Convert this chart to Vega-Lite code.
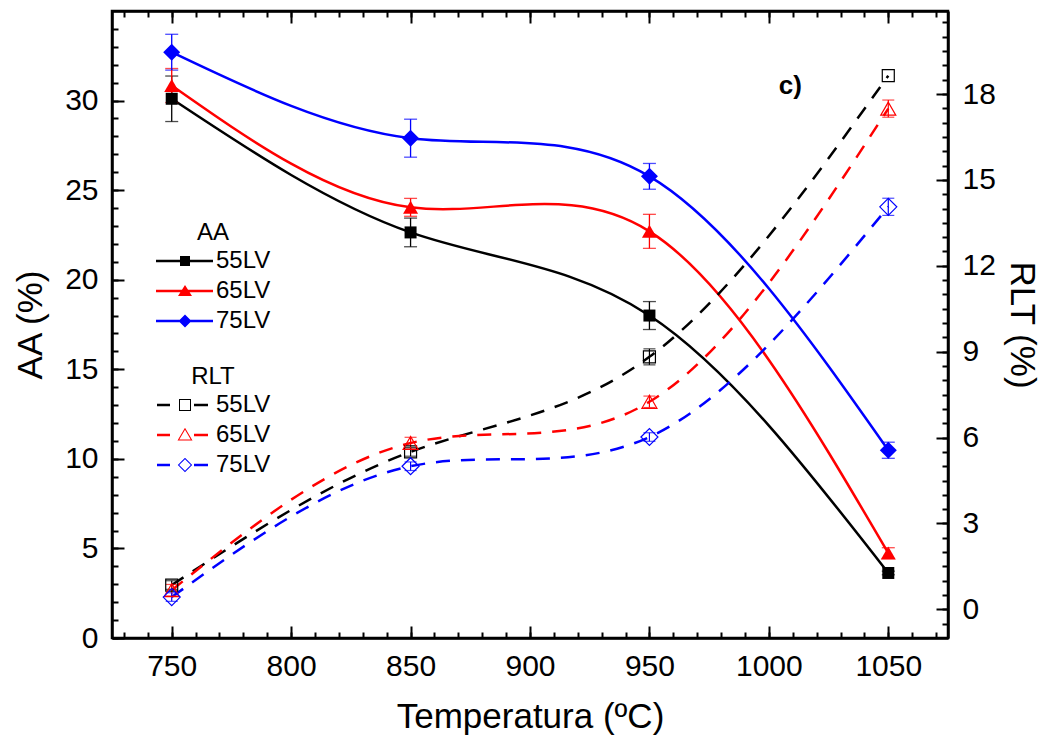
{
 "$schema": "https://vega.github.io/schema/vega-lite/v6.json",
 "width": 836, "height": 627,
 "autosize": {"type": "none"},
 "padding": {"left": 112, "top": 11, "right": 104, "bottom": 104},
 "background": "white",
 "config": {
  "font": "Liberation Sans",
  "view": {"stroke": "black", "strokeWidth": 2.5},
  "axis": {"grid": false, "domainColor": "black", "domainWidth": 2.5, "tickColor": "black", "tickWidth": 2, "labelColor": "black", "titleColor": "black", "labelFont": "Liberation Sans", "titleFont": "Liberation Sans", "labelFontSize": 30, "titleFontSize": 35, "titleFontWeight": "normal", "labelFlush": false, "labelOverlap": false, "labelBound": false},
  "legend": {"orient": "none", "labelFont": "Liberation Sans", "titleFont": "Liberation Sans", "labelFontSize": 24, "titleFontSize": 24, "titleFontWeight": "normal", "labelColor": "black", "titleColor": "black", "symbolSize": 400, "symbolStrokeWidth": 0, "symbolOpacity": 1, "titleAnchor": "middle", "labelOffset": 37, "rowPadding": 6, "titlePadding": 4}
 },
 "data": {"values": [
  {"T": 750, "s": "55LV", "m": "AA", "v": 30.1, "e": 1.27},
  {"T": 850, "s": "55LV", "m": "AA", "v": 22.64, "e": 0.8},
  {"T": 950, "s": "55LV", "m": "AA", "v": 18.0, "e": 0.78},
  {"T": 1050, "s": "55LV", "m": "AA", "v": 3.63, "e": 0.1},
  {"T": 750, "s": "65LV", "m": "AA", "v": 30.84, "e": 0.95},
  {"T": 850, "s": "65LV", "m": "AA", "v": 24.04, "e": 0.5},
  {"T": 950, "s": "65LV", "m": "AA", "v": 22.7, "e": 0.95},
  {"T": 1050, "s": "65LV", "m": "AA", "v": 4.74, "e": 0.3},
  {"T": 750, "s": "75LV", "m": "AA", "v": 32.7, "e": 1.0},
  {"T": 850, "s": "75LV", "m": "AA", "v": 27.9, "e": 1.06},
  {"T": 950, "s": "75LV", "m": "AA", "v": 25.77, "e": 0.72},
  {"T": 1050, "s": "75LV", "m": "AA", "v": 10.48, "e": 0.45},
  {"T": 750, "s": "55LV", "m": "RLT", "v": 0.85, "e": 0.15},
  {"T": 850, "s": "55LV", "m": "RLT", "v": 5.5, "e": 0.15},
  {"T": 950, "s": "55LV", "m": "RLT", "v": 8.82, "e": 0.28},
  {"T": 1050, "s": "55LV", "m": "RLT", "v": 18.64, "e": 0},
  {"T": 750, "s": "65LV", "m": "RLT", "v": 0.67, "e": 0.2},
  {"T": 850, "s": "65LV", "m": "RLT", "v": 5.81, "e": 0.2},
  {"T": 950, "s": "65LV", "m": "RLT", "v": 7.25, "e": 0.2},
  {"T": 1050, "s": "65LV", "m": "RLT", "v": 17.49, "e": 0.3},
  {"T": 750, "s": "75LV", "m": "RLT", "v": 0.43, "e": 0.15},
  {"T": 850, "s": "75LV", "m": "RLT", "v": 5.0, "e": 0.15},
  {"T": 950, "s": "75LV", "m": "RLT", "v": 6.02, "e": 0.15},
  {"T": 1050, "s": "75LV", "m": "RLT", "v": 14.06, "e": 0.3}
 ]},
 "layer": [
  {
   "transform": [{"filter": "datum.m === 'AA'"}],
   "layer": [
    {"transform": [{"filter": "false"}],
     "mark": {"type": "point", "filled": true, "opacity": 1, "size": 400},
     "encoding": {
      "color": {"field": "s", "type": "nominal", "scale": {"domain": ["55LV", "65LV", "75LV"], "range": ["#000000", "#ff0000", "#0000ff"]},
       "legend": {"title": "AA", "legendX": 43, "legendY": 210}},
      "shape": {"field": "s", "type": "nominal", "scale": {"domain": ["55LV", "65LV", "75LV"], "range": [
        "M-1.1,-0.12H4.6V0.12H-1.1ZM1.3,-0.5H2.3V0.5H1.3Z",
        "M-1.1,-0.12H4.6V0.12H-1.1ZM1.8,-0.6L2.5,0.5H1.1Z",
        "M-1.1,-0.12H4.6V0.12H-1.1ZM1.8,-0.65L2.45,0L1.8,0.65L1.15,0Z"]},
       "legend": {"title": "AA", "legendX": 43, "legendY": 210}}}},
    {"mark": {"type": "line", "interpolate": "natural", "strokeWidth": 2.5},
     "encoding": {
      "x": {"field": "T", "type": "quantitative", "scale": {"domain": [725, 1075], "nice": false, "zero": false},
       "axis": {"orient": "bottom", "title": "Temperatura (ºC)", "format": "d", "values": [750,800,850,900,950,1000,1050], "tickSize": -12, "labelPadding": 25, "titlePadding": 18}},
      "y": {"field": "v", "type": "quantitative", "scale": {"domain": [0, 35], "nice": false, "zero": false},
       "axis": {"orient": "left", "title": "AA (%)", "format": "d", "values": [0,5,10,15,20,25,30], "tickSize": -12, "labelPadding": 26, "titlePadding": 16}},
      "color": {"field": "s", "type": "nominal", "legend": null}}},
    {"transform": [{"filter": "datum.e > 0"}],
     "mark": {"type": "errorbar", "thickness": 1.3, "ticks": {"size": 13, "thickness": 1.3}},
     "encoding": {
      "x": {"field": "T", "type": "quantitative",
       "axis": {"orient": "bottom", "title": null, "labels": false, "domain": false, "values": [730,740,750,760,770,780,790,800,810,820,830,840,850,860,870,880,890,900,910,920,930,940,950,960,970,980,990,1000,1010,1020,1030,1040,1050,1060,1070], "tickSize": -6}},
      "y": {"field": "v", "type": "quantitative",
       "axis": {"orient": "left", "title": null, "labels": false, "domain": false, "values": [0,1,2,3,4,5,6,7,8,9,10,11,12,13,14,15,16,17,18,19,20,21,22,23,24,25,26,27,28,29,30,31,32,33,34], "tickSize": -6}},
      "yError": {"field": "e"},
      "color": {"field": "s", "type": "nominal", "legend": null}}},
    {"transform": [{"filter": "datum.s === '55LV'"}],
     "mark": {"type": "point", "shape": "square", "size": 144, "filled": true, "opacity": 1},
     "encoding": {
      "x": {"field": "T", "type": "quantitative", "axis": null},
      "y": {"field": "v", "type": "quantitative", "axis": null},
      "color": {"field": "s", "type": "nominal", "legend": null}}},
    {"transform": [{"filter": "datum.s === '65LV'"}],
     "mark": {"type": "point", "shape": "triangle-up", "size": 225, "filled": true, "opacity": 1},
     "encoding": {
      "x": {"field": "T", "type": "quantitative", "axis": null},
      "y": {"field": "v", "type": "quantitative", "axis": null},
      "color": {"field": "s", "type": "nominal", "legend": null}}},
    {"transform": [{"filter": "datum.s === '75LV'"}],
     "mark": {"type": "point", "shape": "diamond", "size": 289, "filled": true, "opacity": 1},
     "encoding": {
      "x": {"field": "T", "type": "quantitative", "axis": null},
      "y": {"field": "v", "type": "quantitative", "axis": null},
      "color": {"field": "s", "type": "nominal", "legend": null}}}
   ],
   "resolve": {"axis": {"x": "independent", "y": "independent"}}
  },
  {
   "transform": [{"filter": "datum.m === 'RLT'"}],
   "layer": [
    {"transform": [{"filter": "false"}],
     "mark": {"type": "point", "filled": true, "opacity": 1, "size": 400},
     "encoding": {
      "color": {"field": "s", "type": "nominal", "scale": {"domain": ["55LV", "65LV", "75LV"], "range": ["#000000", "#ff0000", "#0000ff"]},
       "legend": {"title": "RLT", "legendX": 43, "legendY": 354}},
      "shape": {"field": "s", "type": "nominal", "scale": {"domain": ["55LV", "65LV", "75LV"], "range": [
        "M-1.0,-0.12H0.3V0.12H-1.0ZM2.7,-0.12H4.1V0.12H2.7ZM1.2,-0.6H2.4V0.6H1.2ZM1.3,-0.5V0.5H2.3V-0.5Z",
        "M-1.0,-0.12H0.3V0.12H-1.0ZM2.7,-0.12H4.1V0.12H2.7ZM1.8,-0.72L2.55,0.55H1.05ZM1.8,-0.52L1.23,0.45H2.37Z",
        "M-1.0,-0.12H0.3V0.12H-1.0ZM2.7,-0.12H4.1V0.12H2.7ZM1.8,-0.72L2.52,0L1.8,0.72L1.08,0ZM1.8,-0.58L1.22,0L1.8,0.58L2.38,0Z"]},
       "legend": {"title": "RLT", "legendX": 43, "legendY": 354}}}},
    {"mark": {"type": "line", "interpolate": "natural", "strokeWidth": 2.5, "strokeDash": [14, 11]},
     "encoding": {
      "x": {"field": "T", "type": "quantitative", "scale": {"domain": [725, 1075], "nice": false, "zero": false},
       "axis": {"orient": "top", "title": null, "labels": false, "values": [750,800,850,900,950,1000,1050], "tickSize": -12}},
      "y": {"field": "v", "type": "quantitative", "scale": {"domain": [-1, 20.9], "nice": false, "zero": false},
       "axis": {"orient": "right", "title": "RLT (%)", "format": "d", "values": [0,3,6,9,12,15,18], "tickSize": -12, "labelPadding": 26, "titlePadding": 8}},
      "color": {"field": "s", "type": "nominal", "legend": null}}},
    {"transform": [{"filter": "datum.e > 0"}],
     "mark": {"type": "errorbar", "thickness": 1.2, "ticks": {"size": 12, "thickness": 1.2}},
     "encoding": {
      "x": {"field": "T", "type": "quantitative",
       "axis": {"orient": "top", "title": null, "labels": false, "domain": false, "values": [730,740,750,760,770,780,790,800,810,820,830,840,850,860,870,880,890,900,910,920,930,940,950,960,970,980,990,1000,1010,1020,1030,1040,1050,1060,1070], "tickSize": -6}},
      "y": {"field": "v", "type": "quantitative",
       "axis": {"orient": "right", "title": null, "labels": false, "domain": false, "values": [-0.5,0,0.5,1,1.5,2,2.5,3,3.5,4,4.5,5,5.5,6,6.5,7,7.5,8,8.5,9,9.5,10,10.5,11,11.5,12,12.5,13,13.5,14,14.5,15,15.5,16,16.5,17,17.5,18,18.5,19,19.5,20,20.5], "tickSize": -6}},
      "yError": {"field": "e"},
      "color": {"field": "s", "type": "nominal", "legend": null}}},
    {"transform": [{"filter": "datum.s === '55LV'"}],
     "mark": {"type": "point", "shape": "square", "size": 144, "filled": false, "opacity": 1, "strokeWidth": 1.2},
     "encoding": {
      "x": {"field": "T", "type": "quantitative", "axis": null},
      "y": {"field": "v", "type": "quantitative", "axis": null},
      "color": {"field": "s", "type": "nominal", "legend": null}}},
    {"transform": [{"filter": "datum.s === '65LV'"}],
     "mark": {"type": "point", "shape": "triangle-up", "size": 225, "filled": false, "opacity": 1, "strokeWidth": 1.2},
     "encoding": {
      "x": {"field": "T", "type": "quantitative", "axis": null},
      "y": {"field": "v", "type": "quantitative", "axis": null},
      "color": {"field": "s", "type": "nominal", "legend": null}}},
    {"transform": [{"filter": "datum.s === '75LV'"}],
     "mark": {"type": "point", "shape": "diamond", "size": 289, "filled": false, "opacity": 1, "strokeWidth": 1.2},
     "encoding": {
      "x": {"field": "T", "type": "quantitative", "axis": null},
      "y": {"field": "v", "type": "quantitative", "axis": null},
      "color": {"field": "s", "type": "nominal", "legend": null}}}
   ],
   "resolve": {"axis": {"x": "independent", "y": "independent"}}
  },
  {
   "data": {"values": [{"label": "c)"}]},
   "mark": {"type": "text", "fontSize": 26, "fontWeight": "bold", "font": "Liberation Sans", "align": "center", "baseline": "middle", "color": "black"},
   "encoding": {
    "x": {"datum": 1009, "type": "quantitative", "axis": null},
    "y": {"datum": 30.8, "type": "quantitative", "scale": {"domain": [0, 35], "nice": false, "zero": false}, "axis": null},
    "text": {"field": "label"}}
  }
 ],
 "resolve": {"scale": {"y": "independent", "color": "independent", "shape": "independent", "size": "independent"}, "axis": {"x": "independent"}}
}
